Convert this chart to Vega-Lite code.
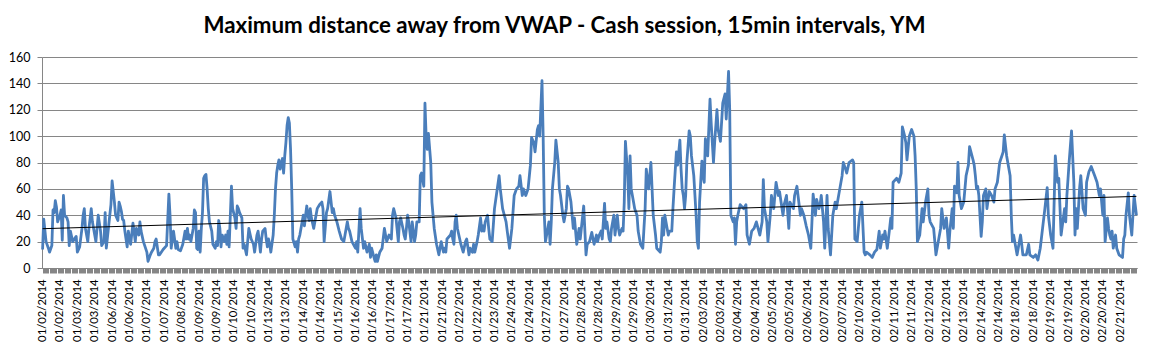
{
  "$schema": "https://vega.github.io/schema/vega-lite/v6.json",
  "autosize": {"type": "none"},
  "width": 1095,
  "height": 211,
  "padding": {"left": 42, "top": 57, "right": 16, "bottom": 84},
  "background": "white",
  "title": {
    "text": "Maximum distance away from VWAP - Cash session, 15min intervals, YM",
    "font": "Lato",
    "fontSize": 22.3,
    "fontWeight": "bold",
    "color": "#000000",
    "anchor": "middle",
    "frame": "group",
    "baseline": "alphabetic",
    "offset": -4,
    "dx": -25
  },
  "config": {
    "view": {"stroke": null},
    "font": "Lato"
  },
  "datasets": {
    "trend": [{"i": 0, "v": 29.8}, {"i": 944, "v": 54.3}]
  },
  "data": {
    "values": [
      {"i":0,"v":14},{"i":1,"v":37},{"i":3,"v":20},{"i":5,"v":15},{"i":6,"v":12},{"i":8,"v":17},{"i":9,"v":44},{"i":10,"v":42},{"i":11,"v":51},{"i":12,"v":46},{"i":13,"v":35},{"i":15,"v":40},{"i":16,"v":44},{"i":17,"v":21},{"i":18,"v":55},{"i":19,"v":40},{"i":21,"v":38},{"i":22,"v":35},{"i":23,"v":17},{"i":24,"v":28},{"i":26,"v":20},{"i":29,"v":24},{"i":30,"v":12},{"i":32,"v":16},{"i":34,"v":30},{"i":35,"v":40},{"i":36,"v":45},{"i":37,"v":30},{"i":39,"v":20},{"i":40,"v":30},{"i":42,"v":45},{"i":43,"v":35},{"i":45,"v":25},{"i":46,"v":20},{"i":48,"v":40},{"i":50,"v":28},{"i":51,"v":17},{"i":53,"v":20},{"i":54,"v":42},{"i":55,"v":15},{"i":58,"v":40},{"i":59,"v":48},{"i":60,"v":66},{"i":62,"v":50},{"i":63,"v":40},{"i":65,"v":36},{"i":66,"v":50},{"i":67,"v":47},{"i":68,"v":43},{"i":69,"v":37},{"i":70,"v":36},{"i":71,"v":28},{"i":73,"v":16},{"i":74,"v":28},{"i":75,"v":22},{"i":76,"v":18},{"i":78,"v":34},{"i":80,"v":20},{"i":81,"v":30},{"i":83,"v":25},{"i":84,"v":35},{"i":85,"v":28},{"i":87,"v":20},{"i":90,"v":12},{"i":91,"v":5},{"i":93,"v":10},{"i":94,"v":12},{"i":96,"v":15},{"i":97,"v":20},{"i":98,"v":22},{"i":100,"v":10},{"i":101,"v":10},{"i":104,"v":14},{"i":107,"v":17},{"i":109,"v":56},{"i":110,"v":40},{"i":111,"v":15},{"i":112,"v":22},{"i":113,"v":28},{"i":115,"v":15},{"i":116,"v":20},{"i":117,"v":14},{"i":119,"v":13},{"i":121,"v":18},{"i":123,"v":28},{"i":124,"v":22},{"i":125,"v":30},{"i":126,"v":22},{"i":127,"v":25},{"i":128,"v":20},{"i":130,"v":30},{"i":131,"v":44},{"i":132,"v":42},{"i":133,"v":15},{"i":134,"v":14},{"i":135,"v":28},{"i":136,"v":12},{"i":137,"v":30},{"i":138,"v":42},{"i":139,"v":68},{"i":140,"v":70},{"i":141,"v":71},{"i":142,"v":60},{"i":143,"v":45},{"i":144,"v":35},{"i":146,"v":28},{"i":147,"v":18},{"i":149,"v":15},{"i":150,"v":20},{"i":151,"v":17},{"i":152,"v":36},{"i":153,"v":30},{"i":154,"v":16},{"i":155,"v":25},{"i":157,"v":20},{"i":158,"v":25},{"i":159,"v":18},{"i":160,"v":28},{"i":161,"v":16},{"i":163,"v":62},{"i":164,"v":45},{"i":166,"v":38},{"i":167,"v":30},{"i":168,"v":47},{"i":169,"v":45},{"i":170,"v":42},{"i":172,"v":38},{"i":173,"v":15},{"i":174,"v":18},{"i":176,"v":10},{"i":178,"v":30},{"i":179,"v":26},{"i":180,"v":22},{"i":182,"v":18},{"i":183,"v":12},{"i":185,"v":25},{"i":186,"v":28},{"i":188,"v":12},{"i":189,"v":22},{"i":190,"v":28},{"i":192,"v":30},{"i":193,"v":22},{"i":194,"v":16},{"i":195,"v":22},{"i":196,"v":18},{"i":197,"v":12},{"i":199,"v":25},{"i":200,"v":40},{"i":201,"v":60},{"i":202,"v":72},{"i":203,"v":78},{"i":204,"v":82},{"i":205,"v":75},{"i":207,"v":83},{"i":208,"v":72},{"i":209,"v":85},{"i":210,"v":95},{"i":211,"v":108},{"i":212,"v":114},{"i":213,"v":110},{"i":214,"v":90},{"i":215,"v":60},{"i":216,"v":22},
      {"i":218,"v":16},{"i":219,"v":20},{"i":220,"v":12},{"i":221,"v":22},{"i":222,"v":25},{"i":223,"v":30},{"i":225,"v":40},{"i":226,"v":32},{"i":227,"v":40},{"i":228,"v":47},{"i":229,"v":40},{"i":230,"v":36},{"i":231,"v":45},{"i":232,"v":38},{"i":234,"v":30},{"i":235,"v":35},{"i":237,"v":45},{"i":239,"v":48},{"i":241,"v":50},{"i":242,"v":45},{"i":243,"v":20},{"i":245,"v":42},{"i":246,"v":45},{"i":248,"v":58},{"i":250,"v":42},{"i":251,"v":45},{"i":252,"v":40},{"i":254,"v":35},{"i":256,"v":28},{"i":258,"v":22},{"i":260,"v":20},{"i":261,"v":25},{"i":263,"v":35},{"i":264,"v":30},{"i":265,"v":28},{"i":267,"v":20},{"i":270,"v":15},{"i":271,"v":20},{"i":272,"v":12},{"i":274,"v":45},{"i":275,"v":30},{"i":277,"v":15},{"i":278,"v":20},{"i":280,"v":12},{"i":282,"v":18},{"i":283,"v":8},{"i":284,"v":15},{"i":286,"v":8},{"i":287,"v":5},{"i":288,"v":10},{"i":289,"v":5},{"i":291,"v":12},{"i":293,"v":15},{"i":295,"v":30},{"i":297,"v":20},{"i":299,"v":25},{"i":301,"v":22},{"i":302,"v":40},{"i":303,"v":45},{"i":305,"v":38},{"i":307,"v":20},{"i":308,"v":35},{"i":309,"v":38},{"i":311,"v":30},{"i":312,"v":25},{"i":313,"v":22},{"i":314,"v":30},{"i":315,"v":40},{"i":316,"v":35},{"i":318,"v":20},{"i":319,"v":35},{"i":320,"v":28},{"i":321,"v":20},{"i":322,"v":25},{"i":323,"v":35},{"i":325,"v":35},{"i":326,"v":70},{"i":327,"v":72},{"i":329,"v":62},{"i":330,"v":125},{"i":331,"v":100},{"i":332,"v":90},{"i":333,"v":102},{"i":335,"v":80},{"i":336,"v":50},{"i":338,"v":30},{"i":340,"v":18},{"i":342,"v":10},{"i":343,"v":15},{"i":344,"v":20},{"i":346,"v":12},{"i":347,"v":15},{"i":348,"v":12},{"i":349,"v":22},{"i":352,"v":25},{"i":353,"v":28},{"i":354,"v":22},{"i":355,"v":18},{"i":356,"v":35},{"i":357,"v":40},{"i":358,"v":30},{"i":360,"v":22},{"i":361,"v":18},{"i":363,"v":12},{"i":365,"v":20},{"i":366,"v":22},{"i":368,"v":10},{"i":369,"v":15},{"i":371,"v":12},{"i":372,"v":18},{"i":373,"v":12},{"i":375,"v":20},{"i":376,"v":25},{"i":378,"v":38},{"i":379,"v":28},{"i":380,"v":32},{"i":381,"v":28},{"i":382,"v":35},{"i":384,"v":40},{"i":385,"v":30},{"i":386,"v":22},{"i":388,"v":20},{"i":390,"v":45},{"i":394,"v":70},{"i":395,"v":60},{"i":397,"v":45},{"i":400,"v":35},{"i":401,"v":28},{"i":403,"v":15},{"i":405,"v":30},{"i":407,"v":55},{"i":409,"v":60},{"i":411,"v":62},{"i":412,"v":70},{"i":414,"v":55},{"i":415,"v":60},{"i":417,"v":55},{"i":419,"v":60},{"i":421,"v":78},{"i":422,"v":99},{"i":424,"v":95},{"i":425,"v":88},{"i":427,"v":105},{"i":428,"v":108},{"i":429,"v":100},{"i":431,"v":142},{"i":432,"v":100},{"i":433,"v":40},{"i":434,"v":20},{"i":436,"v":30},{"i":437,"v":35},{"i":438,"v":18},{"i":439,"v":35},{"i":440,"v":60},{"i":442,"v":80},{"i":443,"v":97},{"i":445,"v":80},{"i":446,"v":60},{"i":447,"v":55},{"i":449,"v":40},{"i":450,"v":35},{"i":452,"v":45},{"i":453,"v":62},{"i":454,"v":60},{"i":455,"v":55},{"i":456,"v":50},{"i":458,"v":30},{"i":459,"v":38},{"i":461,"v":18},{"i":463,"v":30},{"i":464,"v":22},
      {"i":467,"v":47},{"i":469,"v":10},{"i":470,"v":18},{"i":472,"v":20},{"i":474,"v":27},{"i":475,"v":22},{"i":476,"v":18},{"i":478,"v":25},{"i":479,"v":20},{"i":480,"v":24},{"i":482,"v":28},{"i":483,"v":22},{"i":485,"v":49},{"i":486,"v":30},{"i":487,"v":35},{"i":489,"v":22},{"i":490,"v":20},{"i":491,"v":30},{"i":493,"v":40},{"i":494,"v":25},{"i":496,"v":40},{"i":497,"v":30},{"i":498,"v":25},{"i":500,"v":30},{"i":501,"v":28},{"i":502,"v":50},{"i":503,"v":96},{"i":505,"v":70},{"i":506,"v":45},{"i":507,"v":85},{"i":508,"v":60},{"i":510,"v":50},{"i":511,"v":45},{"i":513,"v":40},{"i":514,"v":28},{"i":516,"v":18},{"i":518,"v":15},{"i":519,"v":30},{"i":520,"v":45},{"i":521,"v":75},{"i":523,"v":60},{"i":525,"v":80},{"i":526,"v":60},{"i":527,"v":40},{"i":529,"v":25},{"i":530,"v":15},{"i":531,"v":14},{"i":533,"v":12},{"i":534,"v":20},{"i":535,"v":38},{"i":536,"v":25},{"i":537,"v":40},{"i":539,"v":30},{"i":540,"v":25},{"i":541,"v":28},{"i":543,"v":28},{"i":544,"v":45},{"i":545,"v":60},{"i":547,"v":88},{"i":548,"v":78},{"i":550,"v":97},{"i":551,"v":75},{"i":552,"v":60},{"i":553,"v":55},{"i":554,"v":45},{"i":555,"v":55},{"i":556,"v":80},{"i":558,"v":104},{"i":559,"v":100},{"i":560,"v":85},{"i":562,"v":70},{"i":564,"v":40},{"i":565,"v":20},{"i":566,"v":15},{"i":567,"v":50},{"i":569,"v":81},{"i":570,"v":70},{"i":571,"v":65},{"i":572,"v":98},{"i":574,"v":85},{"i":576,"v":128},{"i":577,"v":110},{"i":579,"v":80},{"i":580,"v":95},{"i":582,"v":120},{"i":583,"v":105},{"i":585,"v":96},{"i":587,"v":125},{"i":589,"v":132},{"i":590,"v":113},{"i":592,"v":149},{"i":593,"v":120},{"i":594,"v":40},{"i":596,"v":35},{"i":597,"v":38},{"i":598,"v":18},{"i":599,"v":35},{"i":600,"v":40},{"i":602,"v":48},{"i":605,"v":45},{"i":607,"v":48},{"i":608,"v":25},{"i":610,"v":18},{"i":612,"v":28},{"i":614,"v":30},{"i":616,"v":35},{"i":619,"v":25},{"i":621,"v":35},{"i":622,"v":67},{"i":623,"v":45},{"i":625,"v":35},{"i":626,"v":20},{"i":628,"v":40},{"i":629,"v":55},{"i":631,"v":45},{"i":633,"v":65},{"i":635,"v":55},{"i":636,"v":58},{"i":639,"v":40},{"i":640,"v":48},{"i":642,"v":55},{"i":644,"v":30},{"i":645,"v":50},{"i":648,"v":45},{"i":649,"v":55},{"i":651,"v":62},{"i":654,"v":40},{"i":655,"v":45},{"i":657,"v":40},{"i":659,"v":32},{"i":661,"v":25},{"i":663,"v":15},{"i":665,"v":56},{"i":667,"v":40},{"i":668,"v":52},{"i":670,"v":45},{"i":671,"v":48},{"i":672,"v":55},{"i":674,"v":35},{"i":675,"v":15},{"i":677,"v":55},{"i":678,"v":30},{"i":680,"v":10},{"i":681,"v":25},{"i":682,"v":40},{"i":684,"v":50},{"i":685,"v":45},{"i":688,"v":60},{"i":690,"v":70},{"i":691,"v":80},{"i":693,"v":75},{"i":694,"v":72},{"i":696,"v":80},{"i":699,"v":82},{"i":700,"v":80},{"i":701,"v":22},{"i":703,"v":20},{"i":704,"v":30},{"i":705,"v":40},
      {"i":707,"v":50},{"i":709,"v":12},{"i":710,"v":10},{"i":711,"v":12},{"i":714,"v":10},{"i":716,"v":8},{"i":718,"v":12},{"i":720,"v":14},{"i":722,"v":28},{"i":723,"v":15},{"i":725,"v":25},{"i":726,"v":22},{"i":727,"v":28},{"i":729,"v":15},{"i":731,"v":30},{"i":732,"v":38},{"i":733,"v":30},{"i":734,"v":65},{"i":737,"v":68},{"i":739,"v":65},{"i":741,"v":72},{"i":742,"v":107},{"i":744,"v":100},{"i":745,"v":95},{"i":746,"v":82},{"i":748,"v":100},{"i":750,"v":105},{"i":752,"v":100},{"i":753,"v":85},{"i":754,"v":60},{"i":755,"v":20},{"i":757,"v":25},{"i":759,"v":45},{"i":760,"v":35},{"i":762,"v":50},{"i":764,"v":60},{"i":765,"v":40},{"i":766,"v":35},{"i":769,"v":30},{"i":771,"v":10},{"i":773,"v":20},{"i":775,"v":30},{"i":776,"v":45},{"i":778,"v":30},{"i":780,"v":38},{"i":782,"v":15},{"i":783,"v":28},{"i":785,"v":45},{"i":786,"v":30},{"i":787,"v":62},{"i":789,"v":57},{"i":790,"v":80},{"i":791,"v":55},{"i":793,"v":45},{"i":795,"v":50},{"i":797,"v":70},{"i":799,"v":78},{"i":800,"v":92},{"i":803,"v":82},{"i":804,"v":78},{"i":805,"v":70},{"i":806,"v":60},{"i":807,"v":62},{"i":808,"v":55},{"i":810,"v":24},{"i":811,"v":35},{"i":812,"v":55},{"i":814,"v":60},{"i":815,"v":45},{"i":817,"v":58},{"i":819,"v":55},{"i":821,"v":50},{"i":822,"v":60},{"i":824,"v":65},{"i":826,"v":80},{"i":829,"v":88},{"i":830,"v":101},{"i":832,"v":85},{"i":833,"v":80},{"i":835,"v":70},{"i":836,"v":40},{"i":837,"v":20},{"i":838,"v":25},{"i":841,"v":10},{"i":842,"v":15},{"i":844,"v":25},{"i":845,"v":18},{"i":846,"v":10},{"i":849,"v":10},{"i":851,"v":18},{"i":852,"v":10},{"i":855,"v":8},{"i":857,"v":10},{"i":859,"v":6},{"i":861,"v":15},{"i":863,"v":30},{"i":865,"v":45},{"i":867,"v":61},{"i":868,"v":40},{"i":870,"v":25},{"i":872,"v":15},{"i":874,"v":85},{"i":876,"v":65},{"i":877,"v":68},{"i":879,"v":25},{"i":882,"v":45},{"i":883,"v":35},{"i":884,"v":55},{"i":886,"v":81},{"i":888,"v":104},{"i":890,"v":65},{"i":891,"v":25},{"i":892,"v":45},{"i":893,"v":30},{"i":895,"v":61},{"i":896,"v":70},{"i":898,"v":45},{"i":900,"v":40},{"i":901,"v":65},{"i":903,"v":73},{"i":905,"v":77},{"i":908,"v":70},{"i":910,"v":65},{"i":912,"v":55},{"i":913,"v":60},{"i":915,"v":40},{"i":916,"v":55},{"i":917,"v":20},{"i":919,"v":38},{"i":920,"v":30},{"i":921,"v":25},{"i":922,"v":22},{"i":923,"v":28},{"i":924,"v":15},{"i":926,"v":25},{"i":927,"v":15},{"i":929,"v":10},{"i":932,"v":8},{"i":933,"v":22},{"i":934,"v":25},{"i":935,"v":40},{"i":937,"v":57},{"i":938,"v":40},{"i":940,"v":25},{"i":942,"v":55},{"i":944,"v":40}
    ]
  },
  "encoding": {
    "x": {
      "field": "i",
      "type": "quantitative",
      "scale": {"domain": [-0.5, 944.5], "nice": false, "zero": false},
      "axis": {
        "title": null,
        "grid": false,
        "tickCount": 945,
        "tickSize": 5,
        "tickColor": "#868686",
        "tickWidth": 1,
        "domainColor": "#868686",
        "domainWidth": 1,
        "labelAngle": 270,
        "labelAlign": "right",
        "labelBaseline": "middle",
        "labelPadding": 6,
        "labelFont": "Lato",
        "labelFontSize": 11.25,
        "labelColor": "#000000",
        "labelOverlap": false,
        "labelFlush": false,
        "labelBound": false,
        "labelExpr": "datum.value % 15 == 0 ? ['01/02/2014','01/02/2014','01/03/2014','01/03/2014','01/06/2014','01/06/2014','01/07/2014','01/07/2014','01/08/2014','01/09/2014','01/09/2014','01/10/2014','01/10/2014','01/13/2014','01/13/2014','01/14/2014','01/14/2014','01/15/2014','01/16/2014','01/16/2014','01/17/2014','01/17/2014','01/21/2014','01/21/2014','01/22/2014','01/22/2014','01/23/2014','01/24/2014','01/24/2014','01/27/2014','01/27/2014','01/28/2014','01/28/2014','01/29/2014','01/29/2014','01/30/2014','01/31/2014','01/31/2014','02/03/2014','02/03/2014','02/04/2014','02/04/2014','02/05/2014','02/05/2014','02/06/2014','02/07/2014','02/07/2014','02/10/2014','02/10/2014','02/11/2014','02/11/2014','02/12/2014','02/12/2014','02/13/2014','02/14/2014','02/14/2014','02/18/2014','02/18/2014','02/19/2014','02/19/2014','02/20/2014','02/20/2014','02/21/2014'][datum.value / 15] : ''"
      }
    },
    "y": {
      "field": "v",
      "type": "quantitative",
      "scale": {"domain": [0, 160], "nice": false},
      "axis": {
        "title": null,
        "values": [0, 20, 40, 60, 80, 100, 120, 140, 160],
        "grid": true,
        "gridColor": "#868686",
        "gridWidth": 1,
        "tickSize": 5,
        "tickColor": "#868686",
        "domainColor": "#868686",
        "labelPadding": 7,
        "labelFont": "Lato",
        "labelFontSize": 12.5,
        "labelColor": "#000000"
      }
    }
  },
  "layer": [
    {
      "mark": {"type": "line", "color": "#4A7EBB", "strokeWidth": 2.8, "strokeJoin": "round"}
    },
    {
      "data": {"name": "trend"},
      "mark": {"type": "line", "color": "#000000", "strokeWidth": 1}
    }
  ]
}
